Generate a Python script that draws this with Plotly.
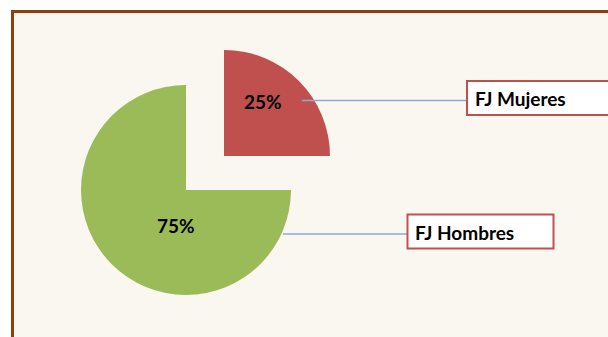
import plotly.graph_objects as go

# Data
categories = ["FJ Mujeres", "FJ Hombres"]
values = [25, 75]
slice_colors = ["#C0504D", "#9BBB59"]

W, H = 608, 337
total = sum(values)
pct_labels = [f"{v / total * 100:.0f}%" for v in values]


def px_x(x):
    return x / W


def px_y(y):
    return 1 - y / H


def domain_for(cx, cy, r):
    return dict(x=[px_x(cx - r), px_x(cx + r)], y=[px_y(cy + r), px_y(cy - r)])


fig = go.Figure()

# Main pie (green slice) and the exploded slice (red), each as its own pie
pie_geoms = [
    (1, (186, 190, 105)),
    (0, (224, 156, 106)),
]
for idx, (cx, cy, r) in pie_geoms:
    colors = ["rgba(0,0,0,0)"] * len(values)
    colors[idx] = slice_colors[idx]
    fig.add_trace(go.Pie(
        labels=categories,
        values=values,
        sort=False,
        direction="clockwise",
        rotation=0,
        marker=dict(colors=colors, line=dict(width=0)),
        textinfo="none",
        hoverinfo="skip",
        showlegend=False,
        domain=domain_for(cx, cy, r),
    ))

shapes = [
    # chart area frame
    dict(type="rect", xref="paper", yref="paper",
         x0=px_x(12.5), x1=1.02, y0=-0.02, y1=px_y(11.5),
         line=dict(color="#8E3F12", width=3), fillcolor="#FAF7F0", layer="below"),
    # leader lines
    dict(type="line", xref="paper", yref="paper",
         x0=px_x(302), x1=px_x(467), y0=px_y(100.5), y1=px_y(100.5),
         line=dict(color="#8EA9D4", width=1.3)),
    dict(type="line", xref="paper", yref="paper",
         x0=px_x(283), x1=px_x(407), y0=px_y(234), y1=px_y(234),
         line=dict(color="#8EA9D4", width=1.3)),
    # label boxes
    dict(type="rect", xref="paper", yref="paper",
         x0=px_x(467), x1=px_x(640), y0=px_y(115), y1=px_y(81),
         line=dict(color="#C0504D", width=2), fillcolor="white"),
    dict(type="rect", xref="paper", yref="paper",
         x0=px_x(407.5), x1=px_x(553.5), y0=px_y(248.5), y1=px_y(214.5),
         line=dict(color="#C0504D", width=2), fillcolor="white"),
]

font_bold = dict(family="Lato, 'Open Sans', sans-serif", size=19, color="black")

annotations = [
    # percentages inside slices
    dict(x=px_x(263), y=px_y(101), text=f"<b>{pct_labels[0]}</b>",
         showarrow=False, xanchor="center", yanchor="middle", font=font_bold),
    dict(x=px_x(176), y=px_y(225), text=f"<b>{pct_labels[1]}</b>",
         showarrow=False, xanchor="center", yanchor="middle", font=font_bold),
    # category labels
    dict(x=px_x(473), y=px_y(98), text=f"<b>{categories[0]}</b>",
         showarrow=False, xanchor="left", yanchor="middle", font=font_bold),
    dict(x=px_x(413), y=px_y(232), text=f"<b>{categories[1]}</b>",
         showarrow=False, xanchor="left", yanchor="middle", font=font_bold),
]

fig.update_layout(
    width=W, height=H,
    margin=dict(l=0, r=0, t=0, b=0),
    paper_bgcolor="white",
    plot_bgcolor="white",
    shapes=shapes,
    annotations=annotations,
)

fig.write_html("out.html", config={"displayModeBar": False})
